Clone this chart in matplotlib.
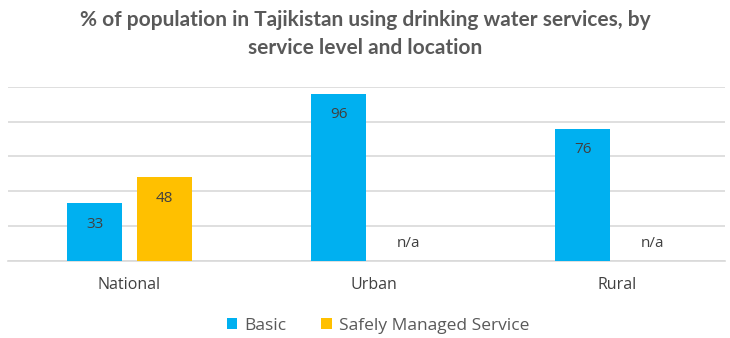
import numpy as np
import matplotlib
matplotlib.use('Agg')
import matplotlib.pyplot as plt

# Data
locations = ['National', 'Urban', 'Rural']
basic = [33, 96, 76]
safely_managed = [48, None, None]  # n/a for urban and rural

blue = '#00B0F0'
orange = '#FFC000'
text_grey = '#404040'

plt.rcParams['font.family'] = ['Open Sans', 'DejaVu Sans']

fig = plt.figure(figsize=(7.3, 3.38), dpi=100)
ax = fig.add_axes([8 / 730, 77 / 338, 717 / 730, 174.3 / 338])

x = np.arange(len(locations))
width = 0.225
offset = 0.143

b1 = ax.bar(x - offset, basic, width, color=blue, label='Basic', zorder=3)
sm_vals = [v if v is not None else 0 for v in safely_managed]
b2 = ax.bar(x + offset, sm_vals, width, color=orange, label='Safely Managed Service', zorder=3)

# value labels inside the top of the bars
for rect, v in zip(b1, basic):
    ax.annotate(str(v), (rect.get_x() + rect.get_width() / 2, v), xytext=(0, -15),
                textcoords='offset points', ha='center', va='center',
                fontsize=11, color=text_grey)
for i, (rect, v) in enumerate(zip(b2, safely_managed)):
    cx = rect.get_x() + rect.get_width() / 2
    if v is None:
        ax.text(cx, 10, 'n/a', ha='center', va='center', fontsize=11, color=text_grey)
    else:
        ax.annotate(str(v), (cx, v), xytext=(0, -15),
                    textcoords='offset points', ha='center', va='center',
                    fontsize=11, color=text_grey)

ax.set_ylim(0, 100)
ax.set_xlim(-0.498, 2.44)
ax.set_yticks(np.arange(0, 101, 20))
ax.yaxis.grid(True, color='#D9D9D9', linewidth=1.2, zorder=0)
ax.tick_params(axis='y', left=False, labelleft=False)
ax.tick_params(axis='x', bottom=False, pad=8, labelsize=11.5, labelcolor=text_grey)
ax.set_xticks(x)
ax.set_xticklabels(locations)
for s in ['top', 'right', 'left']:
    ax.spines[s].set_visible(False)
ax.spines['bottom'].set_color('#D9D9D9')
ax.spines['bottom'].set_linewidth(1.2)

fig.text(0.5, 1 - 34 / 338,
         '% of population in Tajikistan using drinking water services, by\nservice level and location',
         ha='center', va='center', fontsize=15, fontweight='bold', color='#595959',
         family=['Lato', 'DejaVu Sans'], linespacing=1.45)

leg = fig.legend(loc='center', bbox_to_anchor=(378 / 730, 1 - 326 / 338), ncol=2,
                 frameon=False, fontsize=12.5, handlelength=0.6, handleheight=0.6,
                 handletextpad=0.4, columnspacing=2.0)
for t in leg.get_texts():
    t.set_color('#595959')

fig.savefig('out.png', dpi=100)
